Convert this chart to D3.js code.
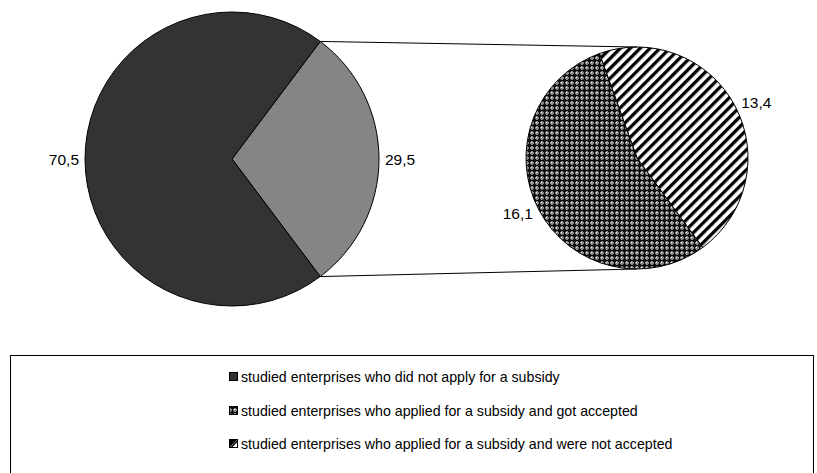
<!DOCTYPE html>
<html>
<head>
<meta charset="utf-8">
<script src="https://cdn.jsdelivr.net/npm/d3@7"></script>
<style>
  html, body { margin: 0; padding: 0; background: #fff; }
  svg { display: block; font-family: "Liberation Sans", Arial, sans-serif; }
</style>
</head>
<body>
<script>
// ---- data ----
const categories = [
  "studied enterprises who did not apply for a subsidy",
  "studied enterprises who applied for a subsidy and got accepted",
  "studied enterprises who applied for a subsidy and were not accepted"
];
const mainLabels = ["did not apply", "applied"];
const mainValues = [70.5, 29.5];
const subLabels = ["accepted", "not accepted"];
const subValues = [16.1, 13.4];

const W = 817, H = 473;
const svg = d3.select("body").append("svg").attr("width", W).attr("height", H);
const defs = svg.append("defs");

// crosshatch pattern
const ch = defs.append("pattern").attr("id", "cross").attr("patternUnits", "userSpaceOnUse")
  .attr("width", 5).attr("height", 5);
ch.append("rect").attr("width", 5).attr("height", 5).attr("fill", "#8a8a8a");
ch.append("rect").attr("x", 0).attr("y", 2).attr("width", 5).attr("height", 1).attr("fill", "#000");
ch.append("rect").attr("x", 2).attr("y", 0).attr("width", 1).attr("height", 5).attr("fill", "#000");
ch.append("rect").attr("x", 1).attr("y", 1).attr("width", 3).attr("height", 3).attr("fill", "#111");
ch.append("rect").attr("x", 4).attr("y", 4).attr("width", 1).attr("height", 1).attr("fill", "#eee");

// stripes pattern
const st = defs.append("pattern").attr("id", "stripes").attr("patternUnits", "userSpaceOnUse")
  .attr("width", 7).attr("height", 7).attr("patternTransform", "rotate(45)");
st.append("rect").attr("width", 7).attr("height", 7).attr("fill", "#fff");
st.append("rect").attr("width", 3.3).attr("height", 7).attr("fill", "#000");

// ---- main pie ----
const cx = 232, cy = 159, R = 147;
const total = d3.sum(mainValues);
const halfSpan = Math.PI * mainValues[1] / total;
const mainPie = d3.pie().sort(null)
  .startAngle(Math.PI / 2 - halfSpan)
  .endAngle(Math.PI / 2 - halfSpan + 2 * Math.PI);
const mainOrder = [1, 0];
const mainArcs = mainPie(mainOrder.map(i => mainValues[i]));
const arc = d3.arc().innerRadius(0).outerRadius(R);
const mainFill = ["#333333", "#858585"];
const gMain = svg.append("g").attr("transform", `translate(${cx},${cy})`);
gMain.selectAll("path").data(mainArcs).join("path")
  .attr("d", arc)
  .attr("fill", (d, j) => mainFill[mainOrder[j]])
  .attr("stroke", "#000").attr("stroke-width", 1);

const fmt = v => d3.format(".1f")(v).replace(".", ",");
mainArcs.forEach((d, j) => {
  const i = mainOrder[j];
  const mid = (d.startAngle + d.endAngle) / 2;
  const rr = R + 6;
  const x = cx + Math.sin(mid) * rr, y = cy - Math.cos(mid) * rr;
  svg.append("text").attr("x", x).attr("y", y + 5.5)
    .attr("text-anchor", Math.sin(mid) >= 0 ? "start" : "end")
    .attr("font-size", 15.5).attr("fill", "#000")
    .text(fmt(mainValues[i]));
});

// ---- secondary pie ----
const sx = 637, sy = 158, r2 = 111;
const subStart = -19.8 * Math.PI / 180;
const subPie = d3.pie().sort(null).startAngle(subStart).endAngle(subStart + 2 * Math.PI);
const subOrder = [1, 0];
const subArcs = subPie(subOrder.map(i => subValues[i]));
const arc2 = d3.arc().innerRadius(0).outerRadius(r2);
const subFill = ["url(#cross)", "url(#stripes)"];
const gSub = svg.append("g").attr("transform", `translate(${sx},${sy})`);
gSub.selectAll("path").data(subArcs).join("path")
  .attr("d", arc2)
  .attr("fill", (d, j) => subFill[subOrder[j]])
  .attr("stroke", "#000").attr("stroke-width", 1);

subArcs.forEach((d, j) => {
  const i = subOrder[j];
  const mid = (d.startAngle + d.endAngle) / 2;
  const rr = r2 + 7;
  const x = sx + Math.sin(mid) * rr, y = sy - Math.cos(mid) * rr;
  svg.append("text").attr("x", x).attr("y", y + 5.5)
    .attr("text-anchor", Math.sin(mid) >= 0 ? "start" : "end")
    .attr("font-size", 15.5).attr("fill", "#000")
    .text(fmt(subValues[i]));
});

// connector lines
const a0 = mainArcs[0].startAngle, a1 = mainArcs[0].endAngle;
const p0 = [cx + Math.sin(a0) * R, cy - Math.cos(a0) * R];
const p1 = [cx + Math.sin(a1) * R, cy - Math.cos(a1) * R];
svg.append("line").attr("x1", p0[0]).attr("y1", p0[1]).attr("x2", sx).attr("y2", sy - r2)
  .attr("stroke", "#000").attr("stroke-width", 1);
svg.append("line").attr("x1", p1[0]).attr("y1", p1[1]).attr("x2", sx).attr("y2", sy + r2)
  .attr("stroke", "#000").attr("stroke-width", 1);

// ---- legend ----
svg.append("rect").attr("x", 10.5).attr("y", 355.5).attr("width", 803).attr("height", 140)
  .attr("fill", "none").attr("stroke", "#000").attr("stroke-width", 1);
const legFill = ["#333333", "url(#cross)", "legend3"];
const rowY = [377, 411, 444];
categories.forEach((c, i) => {
  const y = rowY[i];
  if (i === 2) {
    svg.append("rect").attr("x", 229.5).attr("y", y - 4.5).attr("width", 8).attr("height", 8)
      .attr("fill", "#fff").attr("stroke", "#000");
    svg.append("path").attr("d", `M229.5,${y + 3.5}L229.5,${y - 4.5}L237.5,${y - 4.5}Z`).attr("fill", "#000");
    svg.append("path").attr("d", `M231,${y + 3.5}L237.5,${y - 3}`).attr("stroke", "#000").attr("stroke-width", 1.5);
  } else {
    svg.append("rect").attr("x", 229.5).attr("y", y - 4.5).attr("width", 8).attr("height", 8)
      .attr("fill", legFill[i]).attr("stroke", "#000");
  }
  svg.append("text").attr("x", 241).attr("y", y + 5).attr("font-size", 14.2).attr("fill", "#000").text(c);
});
</script>
</body>
</html>
